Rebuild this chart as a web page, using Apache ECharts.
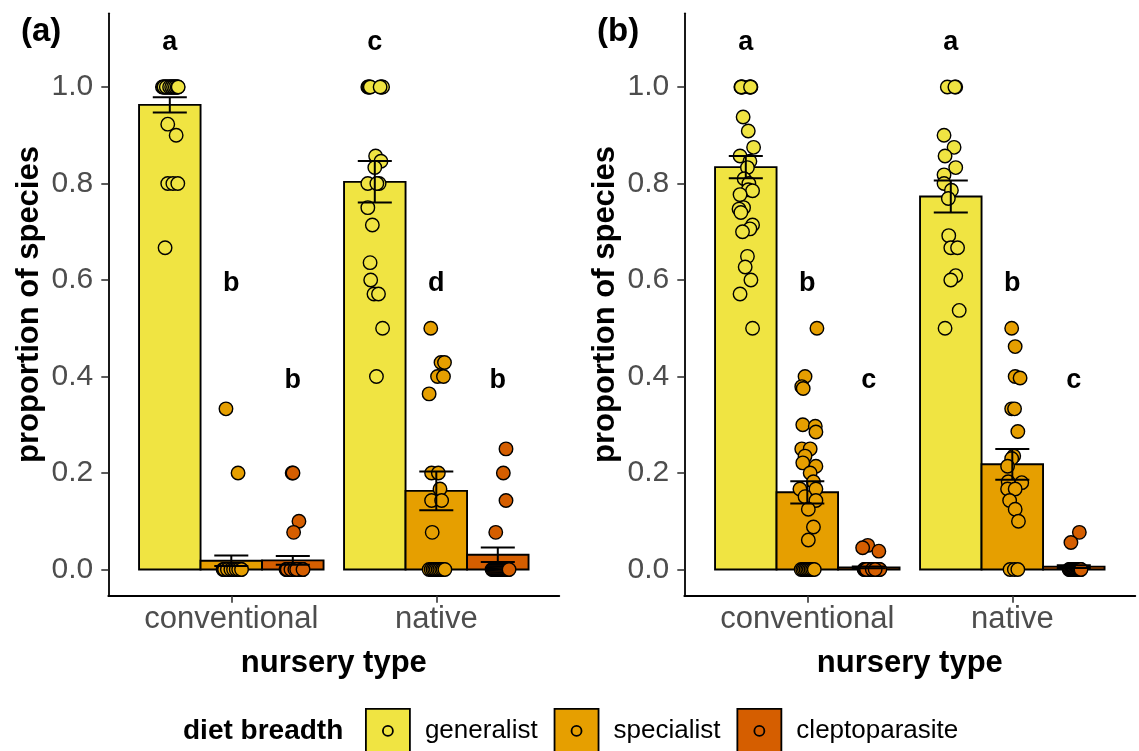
<!DOCTYPE html>
<html>
<head>
<meta charset="utf-8">
<script src="https://cdn.jsdelivr.net/npm/echarts@6/dist/echarts.min.js"></script>
<style>
  html, body { margin: 0; padding: 0; background: #ffffff; }
  #chart { width: 1139px; height: 751px; }
</style>
</head>
<body>
<div id="chart"></div>
<script>
// ---- categories & labels ----
const nurseryTypes = ['conventional', 'native'];
const dietBreadths = ['generalist', 'specialist', 'cleptoparasite'];
const dietColors = ['#F0E442', '#E69F00', '#D55E00'];
const yTicks = [0, 0.2, 0.4, 0.6, 0.8, 1.0];
const letterY = [1.1, 0.6, 0.4];

// ---- panel (a): means and standard errors, [nursery][diet] ----
const meanA = [[0.963, 0.018, 0.019], [0.8035, 0.163, 0.0305]];
const seA = [[0.016, 0.011, 0.009], [0.043, 0.04, 0.015]];
const lettersA = [['a', 'b', 'b'], ['c', 'd', 'b']];

// ---- panel (b) ----
const meanB = [[0.834, 0.16, 0.0044], [0.773, 0.218, 0.006]];
const seB = [[0.023, 0.023, 0.002], [0.033, 0.032, 0.003]];
const lettersB = [['a', 'b', 'c'], ['a', 'b', 'c']];

// ---- per-site proportions: [jitter, value] ----
const ptsAConvGen = [
  [-0.036, 1], [-0.031, 1], [-0.024, 1], [-0.02, 1], [-0.013, 1], [-0.009, 1], [-0.004, 1], [0.002, 1],
  [0.006, 1], [0.011, 1], [0.015, 1], [0.021, 1], [0.024, 1], [0.029, 1], [0.034, 1], [0.039, 1],
  [-0.028, 1], [-0.017, 1], [-0.001, 1], [0.009, 1], [0.018, 1], [0.027, 1], [0.036, 1], [0.041, 1],
  [-0.01, 0.923], [0.031, 0.9], [-0.01, 0.8], [0.015, 0.8], [0.039, 0.8], [-0.023, 0.667]
];
const ptsAConvSpec = [
  [-0.026, 0.333], [0.033, 0.2],
  [-0.04, 0], [-0.035, 0], [-0.03, 0], [-0.026, 0], [-0.021, 0], [-0.017, 0], [-0.012, 0], [-0.008, 0],
  [-0.004, 0], [0.0, 0], [0.004, 0], [0.009, 0], [0.013, 0], [0.017, 0], [0.021, 0], [0.026, 0],
  [0.03, 0], [0.034, 0], [0.038, 0], [0.043, 0], [0.047, 0], [-0.033, 0], [-0.019, 0], [-0.002, 0],
  [0.011, 0], [0.024, 0], [0.036, 0], [0.05, 0]
];
const ptsAConvClep = [
  [-0.003, 0.2], [0.001, 0.2], [0.03, 0.1], [0.004, 0.077],
  [-0.033, 0], [-0.029, 0], [-0.024, 0], [-0.02, 0], [-0.015, 0], [-0.011, 0], [-0.006, 0], [-0.002, 0],
  [0.003, 0], [0.007, 0], [0.012, 0], [0.016, 0], [0.021, 0], [0.025, 0], [0.03, 0], [0.034, 0],
  [0.039, 0], [0.043, 0], [0.048, 0], [-0.027, 0], [-0.009, 0], [0.01, 0], [0.027, 0], [0.045, 0],
  [0.019, 0], [0.05, 0]
];
const ptsANatGen = [
  [-0.034, 1], [-0.03, 1], [-0.026, 1], [-0.022, 1], [0.03, 1], [0.034, 1], [0.038, 1], [0.026, 1],
  [0.004, 0.857], [0.03, 0.846], [0.0, 0.833], [-0.034, 0.8], [0.021, 0.8], [0.01, 0.8],
  [-0.034, 0.75], [-0.012, 0.714], [-0.023, 0.636], [-0.02, 0.6], [-0.004, 0.571], [0.018, 0.571],
  [0.038, 0.5], [0.008, 0.4]
];
const ptsANatSpec = [
  [-0.027, 0.5], [0.023, 0.429], [0.04, 0.429], [0.006, 0.4], [0.035, 0.4], [-0.035, 0.364],
  [-0.023, 0.2], [0.01, 0.2], [0.018, 0.167], [-0.023, 0.143], [0.026, 0.143], [-0.02, 0.077],
  [-0.035, 0], [-0.025, 0], [-0.016, 0], [-0.008, 0], [0.0, 0], [0.009, 0], [0.017, 0], [0.026, 0],
  [0.034, 0], [0.042, 0]
];
const ptsANatClep = [
  [0.04, 0.25], [0.027, 0.2], [0.04, 0.143], [-0.01, 0.077],
  [-0.028, 0], [-0.023, 0], [-0.018, 0], [-0.013, 0], [-0.008, 0], [-0.003, 0], [0.002, 0], [0.007, 0],
  [0.012, 0], [0.017, 0], [0.022, 0], [0.027, 0], [0.032, 0], [0.037, 0], [0.042, 0], [0.047, 0],
  [0.052, 0], [0.055, 0]
];

const ptsBConvGen = [
  [-0.024, 1], [0.025, 1], [-0.02, 1], [0.021, 1], [-0.016, 1], [0.018, 1], [-0.022, 1], [0.023, 1],
  [-0.013, 0.938], [0.012, 0.909], [0.038, 0.875], [-0.028, 0.857], [0.02, 0.846], [0.008, 0.833],
  [-0.008, 0.81], [0.015, 0.8], [0.012, 0.787], [0.033, 0.785], [-0.028, 0.777], [-0.011, 0.75],
  [-0.033, 0.747], [-0.024, 0.74], [0.033, 0.714], [0.02, 0.706], [-0.016, 0.7], [0.008, 0.649],
  [-0.003, 0.627], [0.025, 0.6], [-0.028, 0.571], [0.033, 0.5]
];
const ptsBConvSpec = [
  [0.047, 0.5], [-0.011, 0.4], [-0.027, 0.379], [-0.02, 0.375], [-0.022, 0.3], [0.039, 0.297],
  [0.042, 0.285], [-0.027, 0.25], [0.014, 0.25], [-0.011, 0.235], [-0.022, 0.221], [0.042, 0.214],
  [0.014, 0.2], [0.03, 0.182], [-0.036, 0.167], [0.042, 0.167], [-0.011, 0.151], [0.042, 0.143],
  [0.005, 0.125], [0.03, 0.088], [0.005, 0.061],
  [-0.03, 0], [-0.022, 0], [-0.014, 0], [-0.006, 0], [0.002, 0], [0.01, 0], [0.018, 0], [0.026, 0],
  [0.034, 0]
];
const ptsBConvClep = [
  [-0.005, 0.05], [-0.03, 0.045], [0.049, 0.038],
  [-0.023, 0], [-0.02, 0], [-0.016, 0], [-0.013, 0], [-0.009, 0], [-0.006, 0], [-0.002, 0], [0.001, 0],
  [0.005, 0], [0.008, 0], [0.012, 0], [0.015, 0], [0.019, 0], [0.022, 0], [0.026, 0], [0.029, 0],
  [0.033, 0], [0.036, 0], [0.04, 0], [0.043, 0], [0.047, 0], [0.05, 0], [0.054, 0], [-0.011, 0],
  [0.017, 0], [0.031, 0]
];
const ptsBNatGen = [
  [-0.017, 1], [0.024, 1], [0.02, 1],
  [-0.033, 0.9], [0.016, 0.875], [-0.028, 0.857], [0.024, 0.833], [-0.033, 0.818], [-0.033, 0.8],
  [0.003, 0.786], [-0.012, 0.769], [-0.01, 0.692], [0.0, 0.667], [0.033, 0.667], [0.024, 0.609],
  [0.0, 0.6], [0.041, 0.537], [-0.028, 0.5]
];
const ptsBNatSpec = [
  [-0.003, 0.5], [0.014, 0.462], [0.014, 0.4], [0.038, 0.397], [-0.003, 0.333], [0.011, 0.333],
  [0.027, 0.286], [0.007, 0.235], [-0.003, 0.23], [-0.023, 0.214], [-0.02, 0.182], [0.046, 0.18],
  [-0.023, 0.167], [0.014, 0.167], [-0.013, 0.143], [0.014, 0.125], [0.03, 0.1],
  [-0.011, 0], [0.01, 0], [0.027, 0]
];
const ptsBNatClep = [
  [0.027, 0.077], [-0.014, 0.056],
  [-0.023, 0], [-0.019, 0], [-0.015, 0], [-0.011, 0], [-0.007, 0], [-0.003, 0], [0.001, 0], [0.005, 0],
  [0.009, 0], [0.013, 0], [0.017, 0], [0.021, 0], [0.025, 0], [0.029, 0], [0.033, 0], [0.035, 0]
];

const pointsA = [[ptsAConvGen, ptsAConvSpec, ptsAConvClep], [ptsANatGen, ptsANatSpec, ptsANatClep]];
const pointsB = [[ptsBConvGen, ptsBConvSpec, ptsBConvClep], [ptsBNatGen, ptsBNatSpec, ptsBNatClep]];

// ---- geometry (in x-axis units: one nursery type = 1) ----
const DODGE = [-0.3, 0, 0.3];
const BAR_HALF = 0.15;
const ERR_HALF = 0.083;
const FONT = "'Liberation Sans', Arial, Helvetica, sans-serif";

function renderBar(params, api) {
  const x = api.value(0), m = api.value(1);
  const p0 = api.coord([x - BAR_HALF, 0]);
  const p1 = api.coord([x + BAR_HALF, m]);
  return {
    type: 'rect',
    shape: { x: p0[0], y: p1[1], width: p1[0] - p0[0], height: p0[1] - p1[1] },
    style: { fill: api.visual('color'), stroke: '#000', lineWidth: 1.9 }
  };
}

function renderErr(params, api) {
  const x = api.value(0), m = api.value(1), s = api.value(2);
  const top = api.coord([x, m + s]);
  const bot = api.coord([x, m - s]);
  const l = api.coord([x - ERR_HALF, 0])[0];
  const r = api.coord([x + ERR_HALF, 0])[0];
  const st = { stroke: '#000', lineWidth: 2 };
  return {
    type: 'group',
    children: [
      { type: 'line', shape: { x1: l, y1: top[1], x2: r, y2: top[1] }, style: st },
      { type: 'line', shape: { x1: l, y1: bot[1], x2: r, y2: bot[1] }, style: st },
      { type: 'line', shape: { x1: top[0], y1: top[1], x2: top[0], y2: bot[1] }, style: st }
    ]
  };
}

function panelSeries(gi, means, ses, pts, letters) {
  const out = [];
  dietBreadths.forEach((diet, d) => {
    const barData = nurseryTypes.map((n, k) => [k + 1 + DODGE[d], means[k][d]]);
    const errData = nurseryTypes.map((n, k) => [k + 1 + DODGE[d], means[k][d], ses[k][d]]);
    const ptData = [];
    nurseryTypes.forEach((n, k) => {
      pts[k][d].forEach(p => ptData.push([k + 1 + DODGE[d] + p[0], p[1]]));
    });
    out.push({
      type: 'custom', name: diet, xAxisIndex: gi, yAxisIndex: gi, z: 2,
      renderItem: renderBar, encode: { x: 0, y: 1 }, data: barData,
      itemStyle: { color: dietColors[d] }, silent: true
    });
    out.push({
      type: 'scatter', name: diet, xAxisIndex: gi, yAxisIndex: gi, z: 3,
      symbol: 'circle', symbolSize: 13.5, data: ptData,
      itemStyle: { color: dietColors[d], borderColor: '#000', borderWidth: 1.4, opacity: 1 },
      silent: true
    });
    out.push({
      type: 'custom', name: diet, xAxisIndex: gi, yAxisIndex: gi, z: 4,
      renderItem: renderErr, encode: { x: 0, y: 1 }, data: errData,
      itemStyle: { color: dietColors[d] }, silent: true
    });
  });
  // significance letters
  const letterData = [];
  const letterText = [];
  nurseryTypes.forEach((n, k) => {
    dietBreadths.forEach((diet, d) => {
      letterData.push([k + 1 + DODGE[d], letterY[d]]);
      letterText.push(letters[k][d]);
    });
  });
  out.push({
    type: 'custom', xAxisIndex: gi, yAxisIndex: gi, z: 5, silent: true,
    encode: { x: 0, y: 1 }, data: letterData,
    renderItem: (params, api) => {
      const p = api.coord([api.value(0), api.value(1)]);
      return {
        type: 'text', x: p[0], y: p[1] + 4,
        style: {
          text: letterText[params.dataIndex], fill: '#000',
          font: 'bold 27px ' + FONT, align: 'center', verticalAlign: 'middle'
        }
      };
    }
  });
  return out;
}

const gridLefts = [108.3, 684.3];

// key: filled square with a small ring in the middle (both sub-paths wound the same way)
const legendIcon = 'path://M0 0H44V44H0Z M27 22A5 5 0 1 1 17 22A5 5 0 1 1 27 22Z';

const option = {
  animation: false,
  backgroundColor: '#ffffff',
  textStyle: { fontFamily: FONT },
  grid: gridLefts.map(l => ({ left: l, width: 451, top: 13.3, height: 582.4, containLabel: false })),
  xAxis: gridLefts.map((l, i) => ({
    gridIndex: i, type: 'value', min: 0.4, max: 2.6,
    axisLine: { show: true, onZero: false, lineStyle: { color: '#000', width: 1.8 } },
    axisTick: { show: true, length: 7, customValues: [1, 2], lineStyle: { color: '#333', width: 1.6 } },
    axisLabel: {
      customValues: [1, 2], formatter: v => nurseryTypes[Math.round(v) - 1] || '',
      fontSize: 31, color: '#4d4d4d', margin: 8, fontFamily: FONT
    },
    splitLine: { show: false },
    name: 'nursery type', nameLocation: 'middle', nameGap: 52,
    nameTextStyle: { fontSize: 31, fontWeight: 'bold', color: '#000', fontFamily: FONT }
  })),
  yAxis: gridLefts.map((l, i) => ({
    gridIndex: i, type: 'value', min: -0.0543, max: 1.1528,
    axisLine: { show: true, onZero: false, lineStyle: { color: '#000', width: 1.8 } },
    axisTick: { show: true, length: 7, customValues: yTicks, lineStyle: { color: '#333', width: 1.6 } },
    axisLabel: {
      customValues: yTicks, formatter: v => v.toFixed(1),
      fontSize: 30, color: '#4d4d4d', margin: 15, fontFamily: FONT
    },
    splitLine: { show: false },
    name: 'proportion of species', nameLocation: 'middle', nameGap: 63,
    nameTextStyle: { fontSize: 31, fontWeight: 'bold', color: '#000', fontFamily: FONT }
  })),
  legend: {
    left: 360, top: 703, orient: 'horizontal',
    itemWidth: 44, itemHeight: 44, itemGap: 16, selectedMode: false,
    textStyle: { fontSize: 26, color: '#000', fontFamily: FONT, padding: [0, 0, 0, 10] },
    data: dietBreadths.map((d, i) => ({
      name: d, icon: legendIcon,
      itemStyle: { color: dietColors[i], borderColor: '#000', borderWidth: 1.8 }
    }))
  },
  graphic: [
    { type: 'text', x: 21, y: 32, style: { text: '(a)', font: 'bold 33px ' + FONT, fill: '#000', verticalAlign: 'middle' } },
    { type: 'text', x: 597, y: 32, style: { text: '(b)', font: 'bold 33px ' + FONT, fill: '#000', verticalAlign: 'middle' } },
    { type: 'text', x: 183, y: 731, style: { text: 'diet breadth', font: 'bold 28px ' + FONT, fill: '#000', verticalAlign: 'middle' } }
  ],
  series: [
    ...panelSeries(0, meanA, seA, pointsA, lettersA),
    ...panelSeries(1, meanB, seB, pointsB, lettersB)
  ]
};

const chart = echarts.init(document.getElementById('chart'), null, { renderer: 'canvas' });
chart.setOption(option);
</script>
</body>
</html>
